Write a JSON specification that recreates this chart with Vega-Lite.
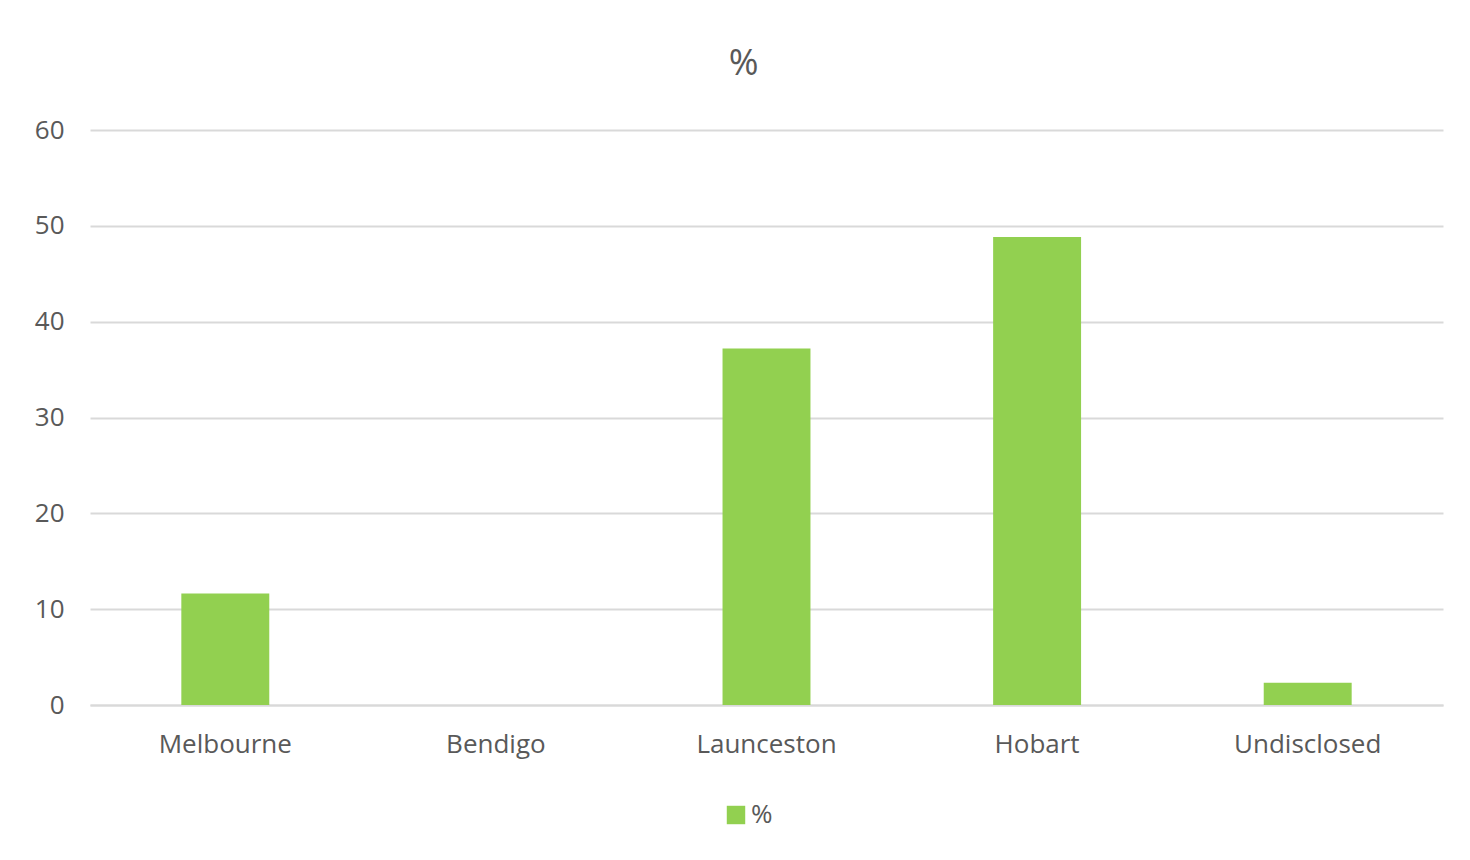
{
  "$schema": "https://vega.github.io/schema/vega-lite/v6.json",
  "autosize": {"type": "none"},
  "width": 1353,
  "height": 575,
  "padding": {"left": 90, "top": 130, "right": 27, "bottom": 155},
  "background": "white",
  "title": {"text": "%", "fontSize": 36, "fontWeight": "normal", "color": "#595959", "font": "Open Sans", "offset": 34, "anchor": "middle", "dx": -23},
  "data": {"values": [
    {"city": "Melbourne", "value": 11.63, "series": "%"},
    {"city": "Bendigo", "value": 0, "series": "%"},
    {"city": "Launceston", "value": 37.21, "series": "%"},
    {"city": "Hobart", "value": 48.84, "series": "%"},
    {"city": "Undisclosed", "value": 2.33, "series": "%"}
  ]},
  "mark": {"type": "bar"},
  "encoding": {
    "x": {"field": "city", "type": "nominal", "sort": null, "title": null,
      "scale": {"paddingInner": 0.675, "paddingOuter": 0.3375},
      "axis": {"labelAngle": 0, "ticks": false, "domainColor": "#d9d9d9", "domainWidth": 2, "labelPadding": 26, "labelFontSize": 26, "labelColor": "#595959", "labelFont": "Open Sans", "grid": false}},
    "y": {"field": "value", "type": "quantitative", "title": null,
      "scale": {"domain": [0, 60]},
      "axis": {"values": [0, 10, 20, 30, 40, 50, 60], "ticks": false, "domain": false, "gridColor": "#d9d9d9", "gridWidth": 2, "labelPadding": 26, "labelFontSize": 26, "labelColor": "#595959", "labelFont": "Open Sans"}},
    "color": {"field": "series", "type": "nominal", "scale": {"range": ["#92D050"]},
      "legend": {"title": null, "orient": "none", "legendX": 633, "legendY": 672, "symbolType": "square", "symbolSize": 340, "symbolStrokeWidth": 0, "labelFontSize": 26, "labelColor": "#595959", "labelFont": "Open Sans", "labelOffset": 2}}
  },
  "config": {"view": {"stroke": null}}
}
